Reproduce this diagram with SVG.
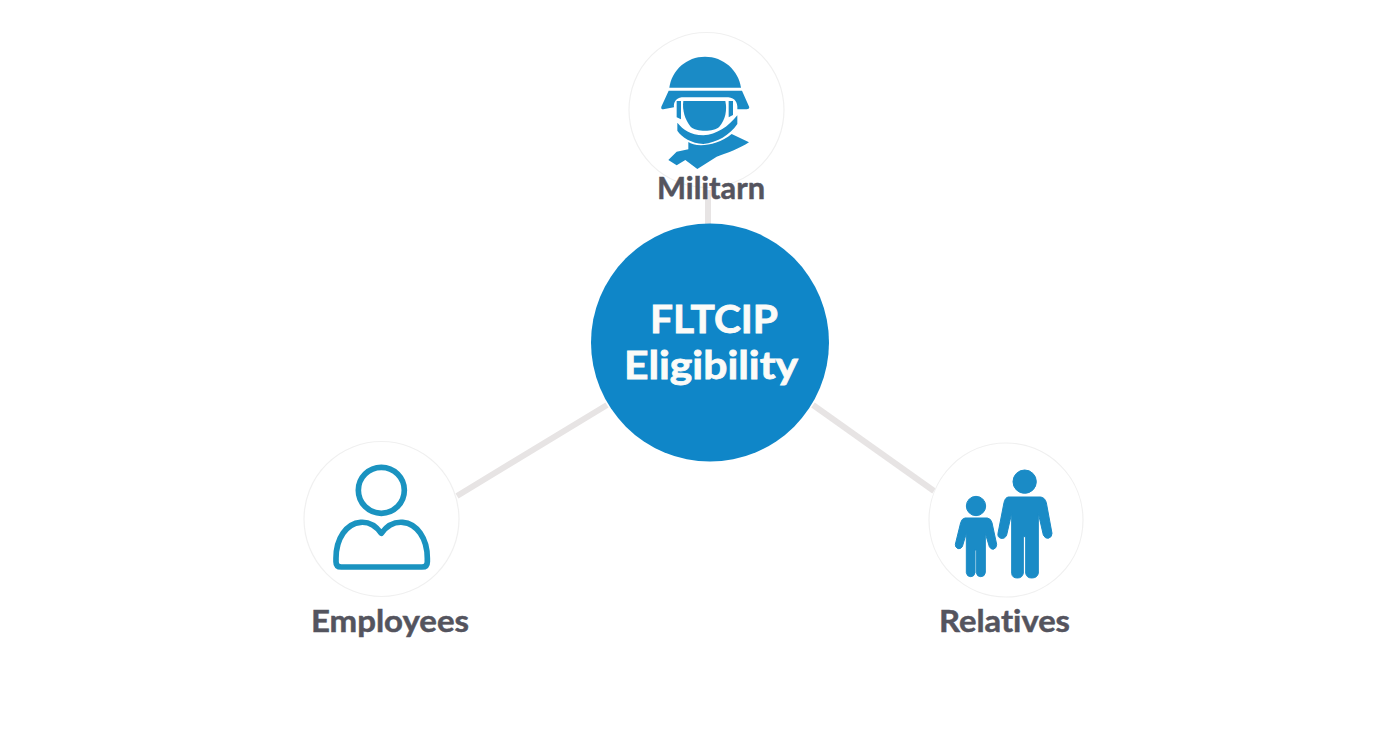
<svg xmlns="http://www.w3.org/2000/svg" width="1392" height="752" viewBox="0 0 1392 752">
<style>
text{font-variant-ligatures:none;font-family:Lato,"Liberation Sans",sans-serif;font-weight:700;text-anchor:middle}
.sat{fill:#fff;stroke:#f0f0f0;stroke-width:1.2}
.lbl{fill:#54545e;stroke:#54545e;stroke-width:.5;font-size:31px}
.hub{fill:#fbfbf8;stroke:#fbfbf8;stroke-width:.8;font-size:39px}
.con{stroke:#e7e4e4;stroke-width:6;fill:none}
.fillb{fill:#1a8bc6}
</style>
<rect width="1392" height="752" fill="#fff"/>
<g id="connectors">
<line class="con" x1="708" y1="190" x2="708" y2="226"/>
<line class="con" x1="607" y1="405" x2="457" y2="496"/>
<line class="con" x1="813" y1="405" x2="934" y2="491"/>
</g>
<g id="node-center">
<circle cx="710" cy="342.500" r="119" fill="#0f86c8"/>
<text class="hub" x="714" y="333" textLength="128" lengthAdjust="spacingAndGlyphs">FLTCIP</text>
<text class="hub" x="711" y="379" textLength="174" lengthAdjust="spacingAndGlyphs">Eligibility</text>
</g>
<g id="node-military">
<circle class="sat" cx="706.500" cy="110" r="77.500"/>
<g class="fillb" transform="translate(620 20) scale(.33333)">
<path d="M148 203C155 150 200 110 255 110C310 110 355 150 363 203Z"/>
<path d="M146 212H366L388 262Q388 268 380 268H352C354 248 345 234 325 232H185C168 234 160 248 162 262L130 268Q122 268 124 260Z"/>
<path d="M190 243H316C322 270 316 300 298 320C282 336 228 336 212 320C195 300 186 270 190 243Z"/>
<path d="M170 243H183V298L170 292Z"/>
<path d="M326 243H339V285L326 292Z"/>
<path d="M172 308C190 330 210 344 250 346C290 344 325 320 352 286V312C330 345 290 368 250 372C215 370 185 352 172 332Z"/>
<path d="M205 366C225 382 290 380 335 342L387 367C360 385 320 400 290 410L232 447L196 420L170 436L145 420L170 395L205 388Z"/>
</g>
<text class="lbl" x="711" y="199" textLength="108" lengthAdjust="spacingAndGlyphs">Militarn</text>
</g>
<g id="node-employees">
<circle class="sat" cx="381.500" cy="519" r="77.500"/>
<g transform="translate(290 430) scale(.33333)" fill="none" stroke="#1a93c0" stroke-width="17" stroke-linejoin="round">
<circle cx="274" cy="181" r="69"/>
<path d="M274 310C258 288 238 275 212 277C170 280 138 325 138 385V395Q138 411 154 411H396Q412 411 412 395V385C412 325 380 280 338 277C312 275 290 288 274 310Z"/>
</g>
<text class="lbl" x="390" y="632" textLength="158" lengthAdjust="spacingAndGlyphs">Employees</text>
</g>
<g id="node-relatives">
<circle class="sat" cx="1006" cy="520" r="77"/>
<g class="fillb" stroke="#1a8bc6" stroke-width="3" stroke-linejoin="round" transform="translate(910 430) scale(.33333)">
<circle cx="344" cy="155" r="35"/>
<circle cx="198" cy="228" r="29"/>
<path d="M295 201H392Q405 203 409 218L426 310Q426 322 415 325Q405 326 400 315L385 250V430Q382 444 365 444Q350 444 347 430V320H340V430Q337 444 322 444Q306 444 305 430V250L290 315Q285 327 273 325Q262 322 264 310L282 218Q285 203 295 201Z"/>
<path d="M165 264H232Q243 266 246 278L260 343Q260 355 250 358Q242 358 238 350L226 310V428Q224 440 212 440Q201 440 199 428V360H195V428Q193 440 182 440Q171 440 169 428V310L157 350Q152 358 144 356Q135 352 136 343L152 278Q155 266 165 264Z"/>
</g>
<text class="lbl" x="1004.500" y="632" textLength="131" lengthAdjust="spacingAndGlyphs">Relatives</text>
</g>
</svg>
